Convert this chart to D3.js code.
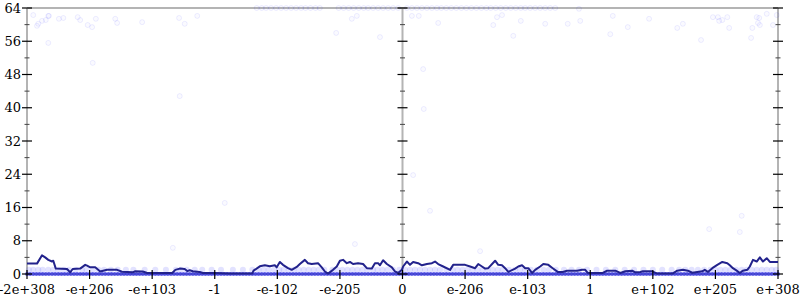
<!DOCTYPE html>
<html><head><meta charset="utf-8">
<script src="https://cdn.jsdelivr.net/npm/d3@7"></script>
<style>body{margin:0;background:#fff}svg{display:block}text{font-family:"DejaVu Serif",serif;font-size:13px;fill:#000}</style>
</head><body><svg id="c" width="800" height="300"></svg>
<script>
// x positions are in "tick units": each labelled tick is one unit apart
const xTickValues = [-6,-5,-4,-3,-2,-1,0,1,2,3,4,5,6];
const xTickLabels = ["-2e+308","-e+206","-e+103","-1","-e-102","-e-205","0","e-206","e-103","1","e+102","e+205","e+308"];
const yTickValues = [0,8,16,24,32,40,48,56,64];
const yMinorTicks = [4,12,20,28,36,44,52,60];

// smoothed line
const lineX = [-6.00,-5.84,-5.76,-5.71,-5.66,-5.60,-5.58,-5.54,-5.36,-5.31,-5.27,-5.15,-5.07,-5.04,-4.99,-4.91,-4.83,-4.72,-4.56,-4.48,-4.31,-4.27,-4.15,-4.08,-3.68,-3.63,-3.56,-3.48,-3.44,-3.40,-3.35,-3.24,-3.19,-3.00,-2.76,-2.40,-2.38,-2.28,-2.20,-2.12,-2.04,-2.01,-1.96,-1.91,-1.83,-1.77,-1.69,-1.64,-1.56,-1.51,-1.45,-1.35,-1.29,-1.24,-1.19,-1.11,-1.05,-1.00,-0.95,-0.89,-0.84,-0.79,-0.71,-0.63,-0.57,-0.49,-0.44,-0.39,-0.36,-0.31,-0.25,-0.17,-0.12,-0.07,-0.01,
0.01,0.07,0.12,0.17,0.25,0.31,0.39,0.47,0.52,0.57,0.65,0.76,0.81,1.00,1.08,1.16,1.21,1.27,1.32,1.37,1.48,1.53,1.59,1.64,1.69,1.80,1.85,1.91,1.96,2.01,2.07,2.12,2.20,2.25,2.33,2.40,2.48,2.56,2.63,2.79,2.87,2.92,2.96,3.20,3.27,3.40,3.48,3.56,3.67,3.72,3.80,3.84,3.99,4.07,4.32,4.39,4.48,4.56,4.63,4.71,4.79,4.83,4.88,4.95,5.03,5.11,5.19,5.23,5.28,5.34,5.39,5.44,5.51,5.55,5.60,5.66,5.71,5.76,5.82,5.87,6.00];
const lineY = [2.5,2.5,4.5,4.0,3.4,3.0,3.2,1.3,1.2,0.4,1.2,1.3,2.2,2.0,1.6,1.6,0.6,1.0,1.0,0.55,0.4,0.65,0.6,0.25,0.25,1.0,1.3,1.2,0.7,0.9,0.65,0.5,0.25,0.25,0.15,0.15,0.8,1.85,2.1,1.85,2.1,1.6,2.9,2.2,1.4,1.0,1.7,2.4,3.4,2.6,2.4,2.6,1.6,0.6,0.1,1.0,1.8,3.2,3.4,2.6,2.9,2.4,2.6,2.4,1.4,1.3,2.6,2.6,2.1,3.3,2.4,1.6,0.6,0.25,1.0,
1.8,3.0,2.2,2.9,2.6,2.1,2.4,2.6,3.0,2.4,1.8,1.0,2.2,2.2,1.8,1.4,2.4,1.8,1.3,1.4,3.2,2.2,2.1,1.4,0.5,1.3,1.8,2.1,1.4,1.4,0.25,1.0,1.8,2.4,2.2,1.4,0.5,0.5,0.8,0.8,1.0,1.0,0.25,0.25,0.8,0.8,0.25,0.65,0.8,0.4,0.5,0.65,0.65,0.1,0.15,0.8,1.0,0.8,0.3,0.5,0.65,1.0,0.5,1.4,2.2,2.9,2.6,2.1,1.4,0.8,0.25,0.8,1.0,1.8,3.4,3.0,4.0,3.0,3.8,2.9,2.9];

// scattered samples
const zeroX = [-6.0,-5.95,-5.9,-5.85,-5.8,-5.75,-5.7,-5.65,-5.6,-5.55,-5.5,-5.45,-5.4,-5.35,-5.3,-5.25,-5.2,-5.15,-5.1,-5.05,-5.0,-4.95,-4.9,-4.85,-4.8,-4.75,-4.7,-4.65,-4.6,-4.55,-4.5,-4.45,-4.4,-4.35,-4.3,-4.25,-4.2,-4.15,-4.1,-4.05,-4.0,-3.95,-3.9,-3.85,-3.8,-3.75,-3.7,-3.65,-3.6,-3.55,-3.5,-3.45,-3.4,-3.35,-3.3,-3.25,-3.2,-3.15,-3.1,-3.05,-3.0,-2.95,-2.9,-2.85,-2.8,-2.75,-2.7,-2.65,-2.6,-2.55,-2.5,-2.45,-2.4,-2.35,-2.3,-2.25,-2.2,-2.15,-2.1,-2.05,-2.0,-1.95,-1.9,-1.85,-1.8,-1.75,-1.7,-1.65,-1.6,-1.55,-1.5,-1.45,-1.4,-1.35,-1.3,-1.25,-1.2,-1.15,-1.1,-1.05,-1.0,-0.95,-0.9,-0.85,-0.8,-0.75,-0.7,-0.65,-0.6,-0.55,-0.5,-0.45,-0.4,-0.35,-0.3,-0.25,-0.2,-0.15,-0.1,-0.05,0.0,0.05,0.1,0.15,0.2,0.25,0.3,0.35,0.4,0.45,0.5,0.55,0.6,0.65,0.7,0.75,0.8,0.85,0.9,0.95,1.0,1.05,1.1,1.15,1.2,1.25,1.3,1.35,1.4,1.45,1.5,1.55,1.6,1.65,1.7,1.75,1.8,1.85,1.9,1.95,2.0,2.05,2.1,2.15,2.2,2.25,2.3,2.35,2.4,2.45,2.5,2.55,2.6,2.65,2.7,2.75,2.8,2.85,2.9,2.95,3.0,3.05,3.1,3.15,3.2,3.25,3.3,3.35,3.4,3.45,3.5,3.55,3.6,3.65,3.7,3.75,3.8,3.85,3.9,3.95,4.0,4.05,4.1,4.15,4.2,4.25,4.3,4.35,4.4,4.45,4.5,4.55,4.6,4.65,4.7,4.75,4.8,4.85,4.9,4.95,5.0,5.05,5.1,5.15,5.2,5.25,5.3,5.35,5.4,5.45,5.5,5.55,5.6,5.65,5.7,5.75,5.8,5.85,5.9,5.95,6.0];
const oneX = [-5.97,-5.9,-5.82,-5.75,-5.66,-5.58,-5.5,-5.41,-5.33,-5.22,-5.12,-5.05,-4.95,-4.86,-4.77,-4.66,-4.55,-4.42,-4.3,-4.12,-3.95,-3.78,-3.62,-3.54,-3.45,-3.32,-3.2,-3.05,-2.9,-2.71,-2.55,-2.4,-2.3,-2.22,-2.14,-2.05,-1.97,-1.9,-1.82,-1.74,-1.66,-1.58,-1.5,-1.42,-1.34,-1.25,-1.12,-1.04,-0.96,-0.88,-0.8,-0.72,-0.64,-0.56,-0.47,-0.4,-0.32,-0.24,-0.15,-0.05,0.04,0.12,0.2,0.28,0.36,0.44,0.52,0.6,0.7,0.8,0.88,0.96,1.04,1.12,1.2,1.28,1.36,1.44,1.52,1.6,1.7,1.8,1.88,1.96,2.05,2.15,2.25,2.34,2.45,2.58,2.7,2.82,2.95,3.1,3.25,3.4,3.55,3.7,3.85,4.0,4.15,4.3,4.42,4.52,4.62,4.72,4.82,4.92,5.0,5.08,5.16,5.24,5.33,5.42,5.5,5.58,5.66,5.74,5.82,5.9,5.97];
const topRowX = [-2.33,-2.25,-2.18,-2.10,-2.02,-1.94,-1.86,-1.78,-1.70,-1.62,-1.55,-1.47,-1.39,-1.32,-1.02,-0.94,-0.86,-0.78,-0.70,-0.62,-0.55,-0.47,-0.39,-0.31,-0.23,-0.15,-0.07,0.07,0.15,0.23,0.31,0.39,0.47,0.55,0.62,0.70,0.78,0.86,0.94,1.02,1.10,1.18,1.26,1.34,1.41,1.49,1.57,1.65,1.73,1.81,1.89,1.96,2.04,2.12,2.20,2.28,2.36,2.44];
const outX = [-5.90,-5.84,-5.82,-5.76,-5.70,-5.66,-5.65,-5.49,-5.42,-5.19,-5.15,-5.03,-4.96,-4.90,-4.59,-4.56,-4.16,-3.57,-3.48,-3.28,-5.66,-4.95,-3.56,-0.81,-0.73,-1.06,-0.36,0.15,0.26,0.57,1.45,1.51,1.59,1.77,1.89,2.28,2.64,2.84,2.82,0.33,0.34,0.17,0.44,3.36,3.60,3.32,3.94,4.39,4.48,4.77,4.96,5.04,5.06,5.11,5.19,5.22,5.59,5.57,5.66,5.70,5.71,5.68,5.82,5.92,5.98,-2.84,-0.76,1.24,5.42,4.90,5.39,-3.67];
const outY = [62.3,59.7,60.2,60.9,61.1,62.1,62.1,61.4,61.6,61.8,61.1,59.9,59.4,61.4,61.4,60.4,60.6,61.6,60.2,62.1,55.6,50.8,42.8,61.4,62.1,58.0,57.0,62.1,62.1,60.4,59.9,61.8,62.3,57.3,60.9,60.2,60.2,60.9,63.8,49.3,39.7,23.8,15.2,62.1,59.4,57.7,61.4,59.2,60.2,56.3,61.8,61.8,60.9,61.1,61.8,59.2,59.2,56.8,61.8,61.6,59.9,60.4,62.6,59.9,62.3,17.1,7.2,5.5,14.0,10.8,10.1,6.3];

const svg = d3.select("#c");
const L = 27, R = 778, T = 8, B = 274;
const x = d3.scaleLinear().domain([-6, 6]).range([L, R]);
const y = d3.scaleLinear().domain([0, 64]).range([B, T]);

const grey = "#b4b4b4";
// frame lines
svg.append("line").attr("x1", L).attr("x2", R).attr("y1", y(64)).attr("y2", y(64)).attr("stroke", grey).attr("stroke-width", 2);
[-6, 0, 6].forEach(v => svg.append("line").attr("x1", x(v)).attr("x2", x(v)).attr("y1", T).attr("y2", B).attr("stroke", grey).attr("stroke-width", 2));
svg.append("line").attr("x1", L).attr("x2", R).attr("y1", B).attr("y2", B).attr("stroke", grey).attr("stroke-width", 2);

// points
const pts = svg.append("g");
pts.selectAll(".one").data(oneX).join("circle").attr("cx", d => x(d)).attr("cy", y(1)).attr("r", 3)
  .attr("fill", "#3030ff").attr("fill-opacity", 0.14);
pts.selectAll(".zero").data(zeroX).join("circle").attr("cx", d => x(d)).attr("cy", y(0)).attr("r", 2)
  .attr("fill", "#2020e0").attr("fill-opacity", 0.7);
const faint = sel => sel.attr("r", 2.5).attr("fill", "#0000ff").attr("fill-opacity", 0.02).attr("stroke", "#0000ff").attr("stroke-opacity", 0.07);
pts.selectAll(".top").data(topRowX).join("circle").attr("cx", d => x(d)).attr("cy", y(64)).call(faint);
pts.selectAll(".out").data(outX.map((d, i) => [d, outY[i]])).join("circle").attr("cx", d => x(d[0])).attr("cy", d => y(d[1])).call(faint);

// line
const line = d3.line().x(d => x(d[0])).y(d => y(d[1]));
svg.append("path").datum(lineX.map((d, i) => [d, lineY[i]])).attr("d", line)
  .attr("fill", "none").attr("stroke", "#22228c").attr("stroke-width", 2).attr("stroke-linejoin", "round");

// y axes ticks
[-6, 0, 6].forEach(v => {
  const g = svg.append("g").attr("transform", `translate(${x(v)},0)`);
  g.selectAll(".maj").data(yTickValues).join("line").attr("x1", -5).attr("x2", 5).attr("y1", d => y(d)).attr("y2", d => y(d)).attr("stroke", "#000").attr("stroke-width", 1.2);
  g.selectAll(".min").data(yMinorTicks).join("line").attr("x1", -2.5).attr("x2", 2.5).attr("y1", d => y(d)).attr("y2", d => y(d)).attr("stroke", "#444").attr("stroke-width", 1);
});
svg.append("g").selectAll("text").data(yTickValues).join("text")
  .attr("x", 21).attr("y", d => y(d)).attr("dy", "0.36em").attr("text-anchor", "end").text(d => d);

// x axis ticks
svg.append("g").selectAll("line").data(xTickValues).join("line")
  .attr("x1", d => x(d)).attr("x2", d => x(d)).attr("y1", B - 4).attr("y2", B + 5).attr("stroke", "#000").attr("stroke-width", 1.2);
svg.append("g").selectAll("text").data(xTickValues).join("text")
  .attr("x", d => x(d)).attr("y", 294).attr("text-anchor", "middle").text((d, i) => xTickLabels[i]);
</script></body></html>
